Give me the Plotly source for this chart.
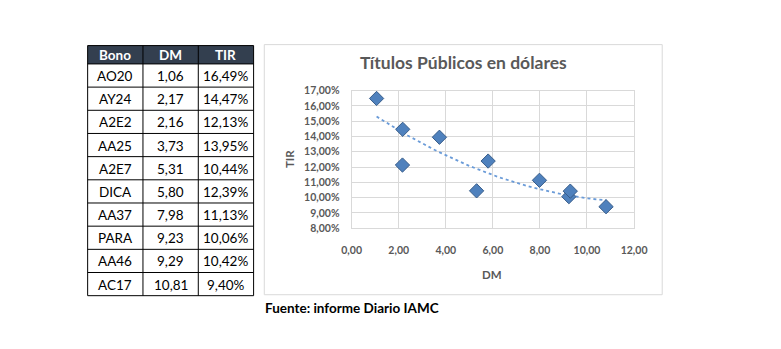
import numpy as np
import plotly.graph_objects as go

# Bond data: name, modified duration (DM) and yield (TIR, %)
bonos = ["AO20", "AY24", "A2E2", "AA25", "A2E7", "DICA", "AA37", "PARA", "AA46", "AC17"]
dm = [1.06, 2.17, 2.16, 3.73, 5.31, 5.80, 7.98, 9.23, 9.29, 10.81]
tir = [16.49, 14.47, 12.13, 13.95, 10.44, 12.39, 11.13, 10.06, 10.42, 9.40]
headers = ["Bono", "DM", "TIR"]

x_ticks = [0, 2, 4, 6, 8, 10, 12]
y_ticks = [8, 9, 10, 11, 12, 13, 14, 15, 16, 17]

W, H = 781, 349
FONT = "Lato"
GRAY = "#595959"


def px(x):
    return x / W


def py(y):
    return 1 - y / H


def comma(v, suffix=""):
    return f"{v:.2f}".replace(".", ",") + suffix


shapes = []
annotations = []

# ---- Data table (left), drawn with shapes and text annotations ----
col_edges = [80, 137, 194, 251]
head_top, head_bot, row_h = 41, 60, 24
n_rows = len(bonos)
table_bot = head_bot + row_h * n_rows

shapes.append(dict(type="rect", xref="paper", yref="paper",
                   x0=px(col_edges[0]), x1=px(col_edges[-1]),
                   y0=py(head_bot), y1=py(head_top),
                   fillcolor="#333F4F", line=dict(width=0)))
# horizontal rules
for yy in [head_top, head_bot] + [head_bot + row_h * (i + 1) for i in range(n_rows)]:
    shapes.append(dict(type="line", xref="paper", yref="paper",
                       x0=px(col_edges[0]), x1=px(col_edges[-1]), y0=py(yy), y1=py(yy),
                       line=dict(color="#000000", width=1)))
# vertical rules
for xx in col_edges:
    shapes.append(dict(type="line", xref="paper", yref="paper",
                       x0=px(xx), x1=px(xx), y0=py(head_top), y1=py(table_bot),
                       line=dict(color="#000000", width=1)))

columns = [bonos, [comma(v) for v in dm], [comma(v, "%") for v in tir]]
for c, (hdr, col) in enumerate(zip(headers, columns)):
    cx = (col_edges[c] + col_edges[c + 1]) / 2
    annotations.append(dict(text=f"<b>{hdr}</b>", xref="paper", yref="paper",
                            x=px(cx), y=py((head_top + head_bot) / 2 + 0.5),
                            xanchor="center", yanchor="middle", showarrow=False,
                            font=dict(family=FONT, size=13.5, color="white")))
    for r, val in enumerate(col):
        cy = head_bot + row_h * r + row_h / 2 + 0.5
        annotations.append(dict(text=val, xref="paper", yref="paper",
                                x=px(cx), y=py(cy), xanchor="center", yanchor="middle",
                                showarrow=False,
                                font=dict(family=FONT, size=13.5, color="#000000")))

fig = go.Figure()

# Polynomial (order 2) trend line fitted to the points
coef = np.polyfit(dm, tir, 2)
xt = np.linspace(min(dm), max(dm), 60)
yt = np.polyval(coef, xt)
fig.add_trace(go.Scatter(
    x=xt, y=yt, mode="lines",
    line=dict(color="#6A9BD8", width=1.8, dash="dot"),
    hoverinfo="skip", showlegend=False,
))

# Scatter of bonds
fig.add_trace(go.Scatter(
    x=dm, y=tir, mode="markers", text=bonos,
    marker=dict(symbol="diamond", size=11, color="#4F81BD",
                line=dict(color="#385D8A", width=1)),
    showlegend=False,
))

# chart frame
shapes.append(dict(type="rect", xref="paper", yref="paper",
                   x0=px(262), x1=px(672), y0=py(299), y1=py(40),
                   line=dict(color="#D9D9D9", width=1), fillcolor="rgba(0,0,0,0)",
                   layer="below"))

annotations += [
    dict(text="<b>Títulos Públicos en dólares</b>", xref="paper", yref="paper",
         x=px(467), y=py(59), xanchor="center", yanchor="middle",
         showarrow=False, font=dict(family=FONT, size=17.5, color=GRAY)),
    dict(text="<b>DM</b>", xref="paper", yref="paper",
         x=px(497), y=py(278), xanchor="center", yanchor="middle",
         showarrow=False, font=dict(family=FONT, size=11.5, color=GRAY)),
    dict(text="<b>TIR</b>", xref="paper", yref="paper",
         x=px(288), y=py(159), xanchor="center", yanchor="middle",
         textangle=-90, showarrow=False,
         font=dict(family=FONT, size=11.5, color=GRAY)),
    dict(text="<b>Fuente: informe Diario IAMC</b>", xref="paper", yref="paper",
         x=px(261), y=py(313), xanchor="left", yanchor="middle",
         showarrow=False, font=dict(family=FONT, size=13.5, color="#000000")),
]

fig.update_layout(
    width=W, height=H,
    margin=dict(l=0, r=0, t=0, b=0),
    paper_bgcolor="white",
    plot_bgcolor="white",
    font=dict(family=FONT, color=GRAY),
    xaxis=dict(
        domain=[px(352), px(643)],
        range=[0, 12], tickvals=x_ticks, ticktext=[comma(v) for v in x_ticks],
        showgrid=True, gridcolor="#D9D9D9", gridwidth=1,
        showline=True, linecolor="#D9D9D9", mirror=True,
        zeroline=False, ticks="", ticklabelstandoff=12,
        tickfont=dict(family=FONT, size=10.5, color=GRAY, weight="bold"),
    ),
    yaxis=dict(
        domain=[py(230), py(87.7)],
        range=[8, 17], tickvals=y_ticks, ticktext=[comma(v, "%") for v in y_ticks],
        showgrid=True, gridcolor="#D9D9D9", gridwidth=1,
        showline=True, linecolor="#D9D9D9", mirror=True,
        zeroline=False, ticks="", ticklabelstandoff=9,
        tickfont=dict(family=FONT, size=10.5, color=GRAY, weight="bold"),
    ),
    shapes=shapes,
    annotations=annotations,
)

fig.write_html("out.html")
